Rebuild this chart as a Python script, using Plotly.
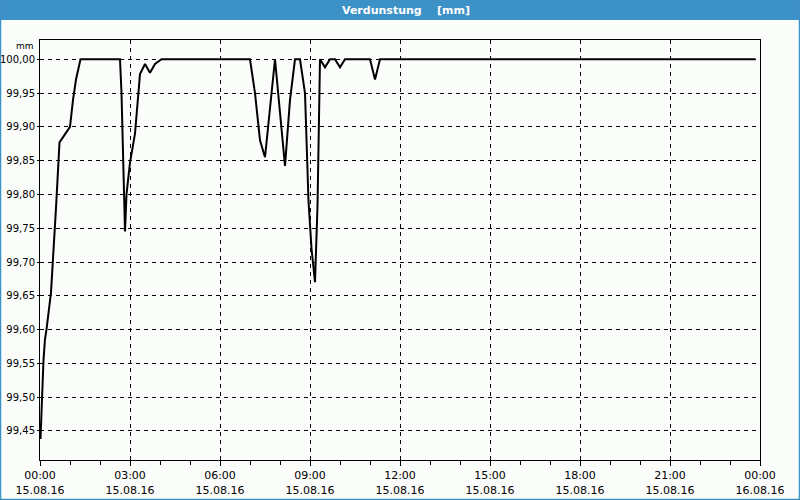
import plotly.graph_objects as go
from datetime import datetime, timedelta

# Data: minutes after 15.08.16 00:00, evaporation gauge value [mm]
minutes = [1, 4, 7, 10, 13, 22, 27, 32, 39, 50, 60, 66, 72, 81,
           160, 163, 166, 170, 173, 180, 190, 200, 210, 220, 230, 243,
           420, 430, 440, 450, 470, 480, 490, 500, 510, 520, 530, 537,
           543, 550, 555, 560, 570, 580, 590, 600, 610, 660, 670, 680, 1431]
values = [99.438, 99.50, 99.555, 99.586, 99.60, 99.655, 99.71, 99.78, 99.877, 99.889,
          99.90, 99.94, 99.97, 100.00,
          100.00, 99.95, 99.852, 99.745, 99.80, 99.847, 99.89, 99.978, 99.993, 99.98,
          99.993, 100.00,
          100.00, 99.95, 99.88, 99.855, 100.00, 99.926, 99.842, 99.94, 100.00, 100.00,
          99.95, 99.79, 99.72, 99.67, 99.783, 100.00, 99.988, 100.00, 100.00, 99.988,
          100.00, 100.00, 99.97, 100.00, 100.00]

start = datetime(2016, 8, 15, 0, 0)
times = [start + timedelta(minutes=m) for m in minutes]

title_text = "Verdunstung    [mm]"
unit_text = "mm"
y_ticks = [99.45, 99.50, 99.55, 99.60, 99.65, 99.70, 99.75, 99.80, 99.85, 99.90, 99.95, 100.00]

bg = "#fbfdfb"
blue = "#3c91c7"
font = "DejaVu Sans"

fig = go.Figure()
fig.add_trace(go.Scatter(x=times, y=values, mode="lines",
                         line=dict(color="black", width=2), hoverinfo="skip"))

W, H = 800, 500
L, R, T, B = 40, 40, 40, 40
pw, ph = W - L - R, H - T - B

def px(x):
    return (x - L) / pw

def py(y):
    return (H - B - y) / ph

shapes = [
    dict(type="rect", xref="paper", yref="paper", x0=px(0), x1=px(W), y0=py(20), y1=py(0),
         fillcolor=blue, line=dict(width=0), layer="above"),
    dict(type="line", xref="paper", yref="paper", x0=px(0.5), x1=px(0.5), y0=py(0), y1=py(H),
         line=dict(color=blue, width=1.5)),
    dict(type="line", xref="paper", yref="paper", x0=px(W - 0.5), x1=px(W - 0.5), y0=py(0), y1=py(H),
         line=dict(color=blue, width=1.5)),
    dict(type="line", xref="paper", yref="paper", x0=px(0), x1=px(W), y0=py(H - 0.5), y1=py(H - 0.5),
         line=dict(color=blue, width=1.5)),
]

annotations = [
    dict(text=f"<b>{title_text}</b>", xref="paper", yref="paper", x=px(406), y=py(10),
         showarrow=False, font=dict(family=font, size=11, color="white"),
         xanchor="center", yanchor="middle"),
    dict(text=unit_text, xref="paper", yref="paper", x=px(36), y=py(46),
         showarrow=False, font=dict(family=font, size=9, color="black"),
         xanchor="right", yanchor="middle"),
]

fig.update_layout(
    width=W, height=H,
    margin=dict(l=L, r=R, t=T, b=B, autoexpand=False),
    paper_bgcolor=bg, plot_bgcolor=bg,
    separators=",.",
    showlegend=False,
    shapes=shapes,
    annotations=annotations,
    font=dict(family=font, size=11, color="black"),
)

fig.update_xaxes(
    type="date",
    automargin=False,
    range=[start, start + timedelta(days=1)],
    dtick=3 * 3600 * 1000,
    tick0=start,
    tickformat="%H:%M<br>%d.%m.%y",
    ticks="outside", ticklen=5, tickcolor="black",
    minor=dict(dtick=3600 * 1000, ticks="outside", ticklen=4, tickcolor="black", showgrid=False),
    showgrid=True, gridcolor="black", gridwidth=1, griddash="4px,4px",
    showline=True, linecolor="black", linewidth=1, mirror=True,
    zeroline=False,
    tickfont=dict(family=font, size=11),
)

fig.update_yaxes(
    automargin=False,
    range=[99.407, 100.0285],
    tickvals=y_ticks,
    tickformat=".2f",
    ticks="outside", ticklen=2, tickcolor="black",
    ticklabelstandoff=0,
    showgrid=True, gridcolor="black", gridwidth=1, griddash="4px,4px",
    showline=True, linecolor="black", linewidth=1, mirror=True,
    zeroline=False,
    tickfont=dict(family=font, size=10),
)

fig.write_html("out.html")
